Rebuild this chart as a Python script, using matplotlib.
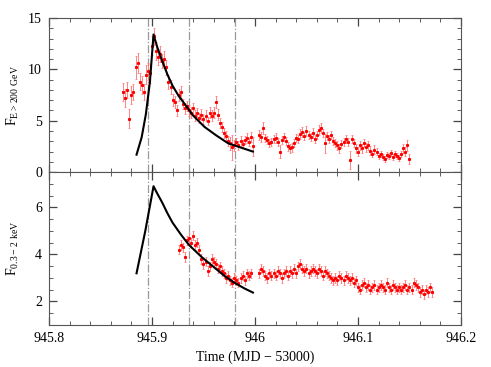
import matplotlib
matplotlib.use("Agg")
import matplotlib.pyplot as plt
from matplotlib.ticker import MultipleLocator, FixedLocator

plt.rcParams['font.family'] = ['Liberation Serif', 'DejaVu Serif']

# ---------------- data ----------------
t_vhe = [945.872, 945.874, 945.876, 945.878, 945.880, 945.882, 945.884, 945.886, 945.888, 945.890,
         945.892, 945.894, 945.896, 945.898, 945.900, 945.902, 945.904, 945.906, 945.908, 945.910,
         945.912, 945.914, 945.916, 945.918, 945.920, 945.922, 945.924, 945.926, 945.928, 945.930,
         945.932, 945.934, 945.936, 945.938, 945.940, 945.942, 945.944, 945.946, 945.948, 945.950,
         945.952, 945.954, 945.956, 945.958, 945.960, 945.962, 945.964, 945.966, 945.968, 945.970,
         945.972, 945.974, 945.976, 945.978, 945.980, 945.982, 945.984, 945.986, 945.988, 945.990,
         945.992, 945.994, 945.996, 945.998,
         946.004, 946.006, 946.008, 946.010, 946.012, 946.014, 946.016, 946.018, 946.020, 946.022,
         946.024, 946.026, 946.028, 946.030, 946.032, 946.034, 946.036, 946.038, 946.040, 946.042,
         946.044, 946.046, 946.048, 946.050, 946.052, 946.054, 946.056, 946.058, 946.060, 946.062,
         946.064, 946.066, 946.068, 946.070, 946.072, 946.074, 946.076, 946.078, 946.080, 946.082,
         946.084, 946.086, 946.088, 946.090, 946.092, 946.094, 946.096, 946.098, 946.100, 946.102,
         946.104, 946.106, 946.108, 946.110, 946.112, 946.114, 946.116, 946.118, 946.120, 946.122,
         946.124, 946.126, 946.128, 946.130, 946.132, 946.134, 946.136, 946.138, 946.140, 946.142,
         946.144, 946.146, 946.148, 946.150]
f_vhe = [7.8, 7.2, 8.0, 5.2, 7.5, 7.8, 10.2, 10.6, 8.8, 8.5,
         7.8, 9.5, 9.8, 9.6, 12.3, 13.2, 11.8, 11.2, 11.5, 10.8,
         11.0, 10.2, 8.8, 8.3, 7.0, 6.8, 6.0, 7.5, 7.8, 6.6,
         6.2, 6.4, 6.0, 5.8, 6.2, 5.5, 5.8, 5.3, 5.6, 5.2,
         5.5, 5.0, 5.8, 5.5, 5.8, 6.8, 5.6, 4.8, 4.4, 3.8,
         3.5, 3.0, 2.8, 2.4, 2.6, 2.9, 2.6, 3.0, 2.7, 3.1,
         3.3, 2.9, 3.4, 2.5,
         3.6, 3.4, 4.3, 3.3, 3.1, 2.8, 2.9, 3.2, 3.3, 2.9,
         2.0, 3.1, 3.4, 3.0, 2.5, 2.3, 2.4, 2.8, 3.3, 3.2,
         3.7, 3.9, 3.5, 4.0, 3.6, 3.4, 3.8, 3.2, 3.6, 4.1,
         4.3, 3.8, 2.8, 3.5, 3.2, 3.6, 3.0, 2.8, 2.6, 2.3,
         2.7, 2.9, 3.2, 2.9, 1.2, 3.2, 2.8, 2.3, 2.0, 2.6,
         2.3, 2.8, 2.4, 2.6, 2.1, 1.8, 2.2, 2.0, 1.6, 1.8,
         1.5, 1.3, 1.7, 1.6, 1.9, 1.5, 1.8, 1.6, 1.4, 1.8,
         2.3, 2.0, 2.6, 1.3]
e_vhe = [0.9, 0.9, 0.8, 0.9, 0.9, 0.8, 1.1, 1.0, 0.8, 0.9,
         0.8, 0.9, 0.8, 0.9, 0.9, 0.8, 0.9, 0.8, 0.8, 0.7,
         0.8, 0.7, 0.7, 0.7, 0.6, 0.6, 0.5, 0.6, 0.6, 0.5,
         0.5, 0.5, 0.5, 0.5, 0.5, 0.5, 0.4, 0.5, 0.5, 0.5,
         0.5, 0.4, 0.5, 0.5, 0.5, 0.6, 0.5, 0.5, 0.5, 0.5,
         0.5, 0.5, 0.6, 1.2, 0.5, 0.4, 0.4, 0.5, 0.4, 0.4,
         0.5, 0.4, 0.5, 0.9,
         0.5, 0.5, 0.6, 0.4, 0.4, 0.4, 0.4, 0.4, 0.5, 0.4,
         0.6, 0.4, 0.4, 0.4, 0.4, 0.4, 0.4, 0.4, 0.4, 0.4,
         0.5, 0.5, 0.4, 0.5, 0.4, 0.4, 0.5, 0.4, 0.4, 0.5,
         0.5, 0.4, 0.9, 0.4, 0.4, 0.4, 0.4, 0.4, 0.4, 0.4,
         0.4, 0.4, 0.4, 0.4, 0.9, 0.4, 0.4, 0.4, 0.4, 0.4,
         0.4, 0.4, 0.4, 0.4, 0.4, 0.3, 0.4, 0.3, 0.3, 0.3,
         0.3, 0.3, 0.3, 0.3, 0.3, 0.3, 0.3, 0.3, 0.3, 0.3,
         0.4, 0.4, 0.5, 0.5]

t_x = [945.926, 945.928, 945.930, 945.932, 945.934, 945.936, 945.938, 945.940, 945.942, 945.944,
       945.946, 945.948, 945.950, 945.952, 945.954, 945.956, 945.958, 945.960, 945.962, 945.964,
       945.966, 945.968, 945.970, 945.972, 945.974, 945.976, 945.978, 945.980, 945.982, 945.984,
       945.986, 945.988, 945.990, 945.992, 945.994, 945.996,
       946.004, 946.006, 946.008, 946.010, 946.012, 946.014, 946.016, 946.018, 946.020, 946.022,
       946.024, 946.026, 946.028, 946.030, 946.032, 946.034, 946.036, 946.038, 946.040, 946.042,
       946.044, 946.046, 946.048, 946.050, 946.052, 946.054, 946.056, 946.058, 946.060, 946.062,
       946.064, 946.066, 946.068, 946.070, 946.072, 946.074, 946.076, 946.078, 946.080, 946.082,
       946.084, 946.086, 946.088, 946.090, 946.092, 946.094, 946.096, 946.098, 946.100, 946.102,
       946.104, 946.106, 946.108, 946.110, 946.112, 946.114, 946.116, 946.118, 946.120, 946.122,
       946.124, 946.126, 946.128, 946.130, 946.132, 946.134, 946.136, 946.138, 946.140, 946.142,
       946.144, 946.146, 946.148, 946.150, 946.152, 946.154, 946.156, 946.158, 946.160, 946.162,
       946.164, 946.166, 946.168, 946.170, 946.172]
f_x = [4.2, 4.4, 4.3, 3.9, 4.6, 4.7, 4.5, 4.8, 4.4, 4.5,
       4.2, 3.8, 3.6, 3.7, 3.3, 3.5, 3.8, 3.7, 3.6, 3.4,
       3.5, 3.3, 3.2, 3.0, 3.1, 2.9, 2.8, 3.0, 2.9, 2.8,
       3.0, 3.1, 2.9, 3.2, 3.1, 3.2,
       3.2, 3.4, 3.3, 3.1, 3.0, 3.2, 3.1, 3.2, 3.1, 3.3,
       3.2, 3.0, 3.2, 3.3, 3.1, 3.3, 3.2, 3.4, 3.2, 3.5,
       3.6, 3.4, 3.3, 3.4, 3.2, 3.3, 3.4, 3.3, 3.2, 3.4,
       3.3, 3.1, 3.3, 3.2, 3.1, 3.0, 2.9, 3.0, 2.9, 3.1,
       3.0, 2.9, 3.1, 3.0, 2.9, 3.0, 2.8, 2.9, 2.6, 2.5,
       2.7, 2.8, 2.6, 2.7, 2.5, 2.6, 2.7, 2.5, 2.6, 2.7,
       2.6, 2.5, 2.8, 2.6, 2.5, 2.7, 2.6, 2.5, 2.6, 2.5,
       2.6, 2.7, 2.5, 2.6, 2.5, 2.8, 2.7, 2.6, 2.4, 2.5,
       2.3, 2.5, 2.4, 2.6, 2.4]
e_x = 0.2

# model curves
t_fit_vhe = [945.885, 945.890, 945.894, 945.898, 945.9015, 945.905, 945.910, 945.915, 945.920,
             945.926, 945.932, 945.940, 945.951, 945.962, 945.974, 945.986, 945.998]
f_fit_vhe = [1.7, 3.4, 5.6, 8.8, 13.4, 12.2, 10.8, 9.5, 8.4,
             7.4, 6.6, 5.5, 4.4, 3.6, 2.8, 2.4, 2.0]
t_fit_x = [945.885, 945.8935, 945.9015, 945.905, 945.910, 945.915, 945.920, 945.928, 945.936,
           945.948, 945.959, 945.970, 945.980, 945.990, 945.998]
f_fit_x = [3.2, 5.0, 6.9, 6.6, 6.2, 5.75, 5.35, 4.85, 4.4,
           3.9, 3.5, 3.1, 2.8, 2.55, 2.38]

vlines = [945.8965, 945.936, 945.9805]

xticks = [945.8, 945.9, 946.0, 946.1, 946.2]
xtick_labels = ["945.8", "945.9", "946", "946.1", "946.2"]

# ---------------- plot ----------------
fig = plt.figure(figsize=(4.91, 3.67), dpi=100)
ax1 = fig.add_axes([0.0998, 0.531, 0.839, 0.420])
ax2 = fig.add_axes([0.0998, 0.1144, 0.839, 0.4166])

for ax, t, f, e, tf, ff in [(ax1, t_vhe, f_vhe, e_vhe, t_fit_vhe, f_fit_vhe),
                             (ax2, t_x, f_x, e_x, t_fit_x, f_fit_x)]:
    for v in vlines:
        ax.axvline(v, color='#999999', lw=0.9, ls='-.', zorder=1)
    ax.errorbar(t, f, yerr=e, fmt='s', ms=1.2, color='red', mec='red',
                ecolor='#ff7070', elinewidth=0.6, capsize=1.0, capthick=0.5, zorder=3)
    ax.plot(tf, ff, color='black', lw=1.5, zorder=4)
    ax.set_xlim(945.8, 946.2)
    ax.xaxis.set_major_locator(FixedLocator(xticks))
    ax.xaxis.set_minor_locator(MultipleLocator(0.02))
    ax.tick_params(which='both', direction='in', top=True, right=True, labelsize=10,
                   color='#444444', pad=5)
    ax.tick_params(which='major', length=6, width=0.9)
    ax.tick_params(which='minor', length=3, width=0.6)
    for s in ax.spines.values():
        s.set_color('#555555')
        s.set_linewidth(0.8)

ax1.set_ylim(0, 15)
ax1.yaxis.set_major_locator(MultipleLocator(5))
ax1.yaxis.set_minor_locator(MultipleLocator(1))
ax1.set_xticklabels([])
ax1.set_ylabel(r'F$_{\mathregular{E>200\ GeV}}$', fontsize=10)

ax2.set_ylim(1, 7.5)
ax2.yaxis.set_major_locator(MultipleLocator(2))
ax2.yaxis.set_minor_locator(MultipleLocator(0.5))
ax2.set_xticklabels(xtick_labels)
ax2.set_ylabel(r'F$_{\mathregular{0.3-2\ keV}}$', fontsize=10)
ax2.set_xlabel('Time (MJD \u2212 53000)', fontsize=10)

ax1.yaxis.set_label_coords(-0.068, 0.5)
ax2.yaxis.set_label_coords(-0.068, 0.5)

fig.savefig('out.png', dpi=100)
